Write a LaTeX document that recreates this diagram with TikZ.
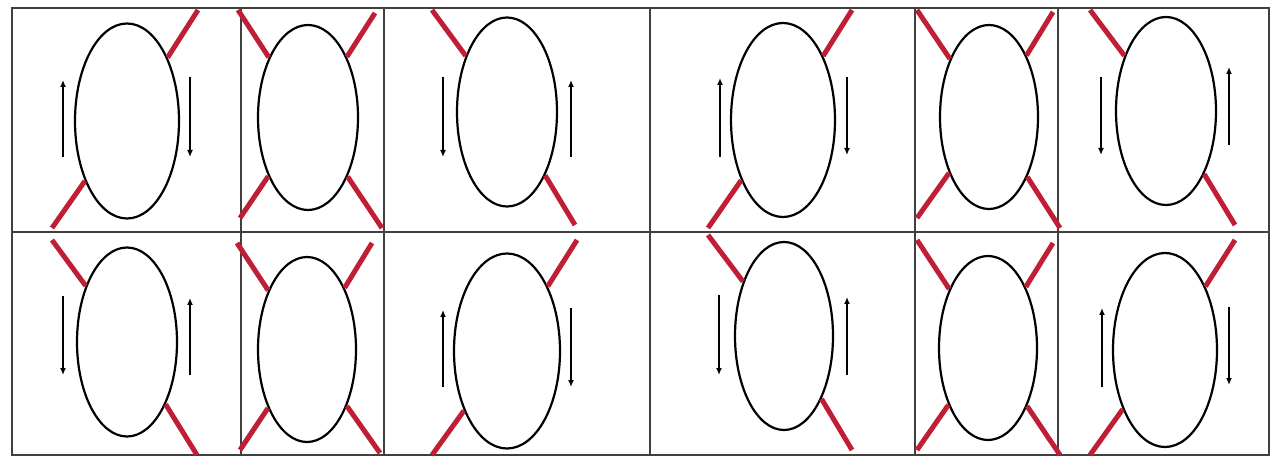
\documentclass[tikz,border=0pt]{standalone}
\usetikzlibrary{shapes.geometric, arrows.meta}
\definecolor{bondred}{RGB}{192,30,52}

\begin{document}
\begin{tikzpicture}[
    x=1pt, y=-1pt,
    grid/.style={
        draw=black!75,
        line width=1.6pt
    },
    loop/.style={
        ellipse,
        draw,
        line width=2.2pt,
        inner sep=0pt
    },
    bond/.style={
        draw=bondred,
        line width=5pt
    },
    spin/.style={
        -{Latex[length=7pt,width=6pt]},
        line width=2pt
    }
]
    \useasboundingbox (0,0) rectangle (1278,457);

    % --- Table ---
    \draw[grid] (12,8) rectangle (1269,455);
    \draw[grid] (12,232) -- (1269,232);
    \foreach \x in {241,384,650,915,1058}
        \draw[grid] (\x,8) -- (\x,455);

    % --- Top row: loops ---
    \node[loop, minimum width=104pt, minimum height=195pt] (a1) at (127,121) {};
    \node[loop, minimum width=100pt, minimum height=185pt] (b1) at (308,117.5) {};
    \node[loop, minimum width=100pt, minimum height=189pt] (c1) at (507,112) {};
    \node[loop, minimum width=104pt, minimum height=194pt] (d1) at (783,120) {};
    \node[loop, minimum width=98pt, minimum height=184pt] (e1) at (989,117) {};
    \node[loop, minimum width=100pt, minimum height=188pt] (f1) at (1166,111) {};

    % --- Bottom row: loops ---
    \node[loop, minimum width=100pt, minimum height=189pt] (a2) at (127,342) {};
    \node[loop, minimum width=98pt, minimum height=185pt] (b2) at (307,349.5) {};
    \node[loop, minimum width=106pt, minimum height=195pt] (c2) at (507,351) {};
    \node[loop, minimum width=98pt, minimum height=188pt] (d2) at (784,336) {};
    \node[loop, minimum width=98pt, minimum height=184pt] (e2) at (988,348) {};
    \node[loop, minimum width=104pt, minimum height=194pt] (f2) at (1165,350) {};

    % Bond ends
    \coordinate (a1tr) at (198,10);   \coordinate (a1bl) at (52,228);
    \coordinate (b1tl) at (238,10);   \coordinate (b1tr) at (375,13);
    \coordinate (b1bl) at (240,218);  \coordinate (b1br) at (382,228);
    \coordinate (c1tl) at (432,10);   \coordinate (c1br) at (575,225);
    \coordinate (d1tr) at (852,10);   \coordinate (d1bl) at (708,228);
    \coordinate (e1tl) at (917,10);   \coordinate (e1tr) at (1053,12);
    \coordinate (e1bl) at (917,218);  \coordinate (e1br) at (1060,228);
    \coordinate (f1tl) at (1090,10);  \coordinate (f1br) at (1235,225);

    \coordinate (a2tl) at (52,240);   \coordinate (a2br) at (197,455);
    \coordinate (b2tl) at (237,243);  \coordinate (b2tr) at (372,243);
    \coordinate (b2bl) at (240,450);  \coordinate (b2br) at (380,453);
    \coordinate (c2tr) at (577,240);  \coordinate (c2bl) at (432,455);
    \coordinate (d2tl) at (708,235);  \coordinate (d2br) at (852,450);
    \coordinate (e2tl) at (917,240);  \coordinate (e2tr) at (1053,243);
    \coordinate (e2bl) at (917,450);  \coordinate (e2br) at (1060,455);
    \coordinate (f2tr) at (1235,240); \coordinate (f2bl) at (1090,455);

    % --- Bonds ---
    \draw[bond] (a1tr) -- (a1);  \draw[bond] (a1bl) -- (a1);
    \draw[bond] (b1tl) -- (b1);  \draw[bond] (b1tr) -- (b1);
    \draw[bond] (b1bl) -- (b1);  \draw[bond] (b1br) -- (b1);
    \draw[bond] (c1tl) -- (c1);  \draw[bond] (c1br) -- (c1);
    \draw[bond] (d1tr) -- (d1);  \draw[bond] (d1bl) -- (d1);
    \draw[bond] (e1tl) -- (e1);  \draw[bond] (e1tr) -- (e1);
    \draw[bond] (e1bl) -- (e1);  \draw[bond] (e1br) -- (e1);
    \draw[bond] (f1tl) -- (f1);  \draw[bond] (f1br) -- (f1);

    \draw[bond] (a2tl) -- (a2);  \draw[bond] (a2br) -- (a2);
    \draw[bond] (b2tl) -- (b2);  \draw[bond] (b2tr) -- (b2);
    \draw[bond] (b2bl) -- (b2);  \draw[bond] (b2br) -- (b2);
    \draw[bond] (c2tr) -- (c2);  \draw[bond] (c2bl) -- (c2);
    \draw[bond] (d2tl) -- (d2);  \draw[bond] (d2br) -- (d2);
    \draw[bond] (e2tl) -- (e2);  \draw[bond] (e2tr) -- (e2);
    \draw[bond] (e2bl) -- (e2);  \draw[bond] (e2br) -- (e2);
    \draw[bond] (f2tr) -- (f2);  \draw[bond] (f2bl) -- (f2);

    % --- Spin arrows ---
    \draw[spin] (63,157) -- (63,80);      \draw[spin] (190,77) -- (190,157);
    \draw[spin] (443,77) -- (443,157);    \draw[spin] (571,157) -- (571,80);
    \draw[spin] (720,157) -- (720,78);    \draw[spin] (847,77) -- (847,155);
    \draw[spin] (1101,77) -- (1101,155);  \draw[spin] (1229,145) -- (1229,67);

    \draw[spin] (63,296) -- (63,375);     \draw[spin] (190,375) -- (190,298);
    \draw[spin] (443,387) -- (443,310);   \draw[spin] (571,308) -- (571,387);
    \draw[spin] (719,295) -- (719,375);   \draw[spin] (847,375) -- (847,297);
    \draw[spin] (1102,387) -- (1102,308); \draw[spin] (1229,307) -- (1229,385);

\end{tikzpicture}
\end{document}
